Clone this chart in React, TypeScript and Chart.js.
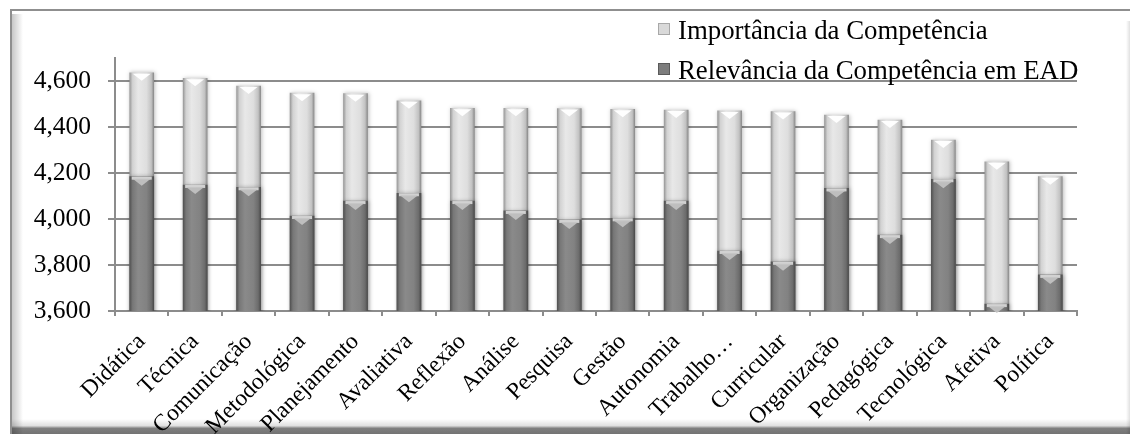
import React, { useEffect, useRef } from "react";
import { Chart, registerables } from "chart.js";

Chart.register(...registerables);

// Competências avaliadas (eixo X)
const competencias = [
  "Didática",
  "Técnica",
  "Comunicação",
  "Metodológica",
  "Planejamento",
  "Avaliativa",
  "Reflexão",
  "Análise",
  "Pesquisa",
  "Gestão",
  "Autonomia",
  "Trabalho…",
  "Curricular",
  "Organização",
  "Pedagógica",
  "Tecnológica",
  "Afetiva",
  "Política",
];

// Importância da Competência
const importancia = [
  4636, 4612, 4578, 4547, 4545, 4514, 4481, 4481, 4480, 4477, 4474, 4470,
  4467, 4452, 4430, 4343, 4249, 4184,
];

// Relevância da Competência em EAD
const relevancia = [
  4184, 4148, 4138, 4013, 4078, 4112, 4078, 4035, 3996, 4003, 4078, 3861,
  3814, 4133, 3930, 4173, 3630, 3757,
];

const Y_MIN = 3600;
const Y_MAX = 4700;
const Y_STEP = 200;

const SERIF = '"Liberation Serif", "Times New Roman", Times, serif';
const BAR_W = 24;

const LIGHT_STOPS: [number, string][] = [
  [0, "#9a9a9a"],
  [0.12, "#d2d2d2"],
  [0.35, "#e8e8e8"],
  [0.7, "#dedede"],
  [0.9, "#c2c2c2"],
  [1, "#8c8c8c"],
];
const DARK_STOPS: [number, string][] = [
  [0, "#525252"],
  [0.12, "#777777"],
  [0.35, "#8a8a8a"],
  [0.7, "#828282"],
  [0.9, "#6c6c6c"],
  [1, "#4c4c4c"],
];

// Horizontal gradient across each bar to give it a rounded, cylinder-like look
const cylinder = (stops: [number, string][]) => (ctx: any) => {
  const chart = ctx.chart;
  const xs = chart.scales && chart.scales.x;
  if (!xs || ctx.dataIndex === undefined) return stops[2][1];
  const cx = xs.getPixelForValue(ctx.dataIndex);
  if (!Number.isFinite(cx)) return stops[2][1];
  const g = chart.ctx.createLinearGradient(cx - BAR_W / 2, 0, cx + BAR_W / 2, 0);
  stops.forEach(([o, c]) => g.addColorStop(o, c));
  return g;
};

// Soft shadow behind the bars and bevelled caps on their tops
const barDecor = {
  id: "barDecor",
  beforeDatasetDraw(chart: any) {
    const c = chart.ctx;
    c.save();
    c.shadowColor = "rgba(0,0,0,0.25)";
    c.shadowBlur = 4;
    c.shadowOffsetX = 1;
  },
  afterDatasetDraw(chart: any, args: any) {
    const c = chart.ctx;
    c.restore();
    const light = args.index === 0;
    c.save();
    args.meta.data.forEach((el: any) => {
      const { x, y, width, base } = el.getProps(["x", "y", "width", "base"], true);
      const h = base - y;
      if (!Number.isFinite(h) || h < 2) return;
      const half = width / 2;
      if (light) {
        c.fillStyle = "rgba(255,255,255,0.95)";
        c.beginPath();
        c.moveTo(x - half + 3, y + 1);
        c.lineTo(x + half - 3, y + 1);
        c.lineTo(x, y + Math.min(8, h));
        c.closePath();
        c.fill();
      } else {
        c.fillStyle = "rgba(214,214,214,0.95)";
        c.fillRect(x - half + 2, y, width - 4, Math.min(3, h));
        if (h > 5) {
          c.fillStyle = "rgba(196,196,196,0.9)";
          c.beginPath();
          c.moveTo(x - half + 3, y + 2);
          c.lineTo(x + half - 3, y + 2);
          c.lineTo(x, y + Math.min(9, h));
          c.closePath();
          c.fill();
        }
      }
    });
    c.restore();
  },
};

const legendItems = [
  { label: "Importância da Competência", fill: "#d9d9d9", edge: "#a8a8a8" },
  { label: "Relevância da Competência em EAD", fill: "#7d7d7d", edge: "#5a5a5a" },
];

export default function App() {
  const canvasRef = useRef<HTMLCanvasElement>(null);

  useEffect(() => {
    if (!canvasRef.current) return;
    const chart = new Chart(canvasRef.current, {
      type: "bar",
      data: {
        labels: competencias,
        datasets: [
          {
            label: legendItems[0].label,
            data: importancia,
            backgroundColor: cylinder(LIGHT_STOPS),
            borderWidth: 0,
            grouped: false,
            order: 1,
            barThickness: BAR_W,
          },
          {
            label: legendItems[1].label,
            data: relevancia,
            backgroundColor: cylinder(DARK_STOPS),
            borderWidth: 0,
            grouped: false,
            order: 0,
            barThickness: BAR_W,
          },
        ],
      } as any,
      options: {
        responsive: false,
        animation: false,
        devicePixelRatio: 1,
        layout: { padding: { top: 58, right: 56, left: 0, bottom: 0 } },
        plugins: {
          legend: { display: false },
          tooltip: { enabled: false },
        },
        scales: {
          x: {
            grid: {
              display: true,
              drawOnChartArea: false,
              drawTicks: true,
              tickLength: 5,
              color: "#8c8c8c",
              lineWidth: 2,
              offset: true,
            },
            border: { display: true, color: "#8c8c8c", width: 2 },
            ticks: {
              autoSkip: false,
              minRotation: 45,
              maxRotation: 45,
              padding: 12,
              color: "#000",
              font: { family: SERIF, size: 23.5 },
            },
            afterFit(scale: any) {
              scale.height = 123;
            },
          },
          y: {
            min: Y_MIN,
            max: Y_MAX,
            grid: { color: "#8c8c8c", lineWidth: 2, tickLength: 7 },
            border: { display: true, color: "#8c8c8c", width: 2 },
            ticks: {
              stepSize: Y_STEP,
              includeBounds: false,
              padding: 17,
              color: "#000",
              font: { family: SERIF, size: 25.5 },
              callback: (v: any) => Number(v).toLocaleString("en-US"),
            },
            afterFit(scale: any) {
              scale.width = 115;
            },
          },
        },
      } as any,
      plugins: [barDecor],
    });
    return () => chart.destroy();
  }, []);

  return (
    <div
      style={{
        position: "fixed",
        left: 0,
        top: 0,
        width: 1133,
        height: 434,
        background: "#fff",
        overflow: "hidden",
      }}
    >
      {/* chart frame */}
      <div
        style={{
          position: "absolute",
          left: 10,
          top: 9,
          width: 1120,
          height: 425,
          boxSizing: "border-box",
          borderTop: "2px solid #8f8f8f",
          borderLeft: "2px solid #8f8f8f",
          background: "#fff",
          overflow: "hidden",
        }}
      >
        <div
          style={{
            position: "absolute",
            left: 0,
            top: 3,
            width: 11,
            bottom: 0,
            background: "linear-gradient(to right, rgba(0,0,0,0.22), rgba(0,0,0,0))",
          }}
        />
        <div
          style={{
            position: "absolute",
            right: 0,
            top: 10,
            width: 4,
            bottom: 0,
            background: "linear-gradient(to left, rgba(0,0,0,0.12), rgba(0,0,0,0))",
          }}
        />
        <div
          style={{
            position: "absolute",
            left: 0,
            right: 0,
            bottom: 0,
            height: 15,
            background:
              "linear-gradient(to bottom, rgba(0,0,0,0) 0%, rgba(0,0,0,0.12) 45%, rgba(0,0,0,0.5) 62%, rgba(0,0,0,0.55) 100%)",
          }}
        />
      </div>
      <canvas
        ref={canvasRef}
        width={1133}
        height={434}
        style={{ position: "absolute", left: 0, top: 0 }}
      />
      {legendItems.map((item, i) => (
        <div key={item.label}>
          <div
            style={{
              position: "absolute",
              left: 658,
              top: 23 + i * 40,
              width: 12,
              height: 12,
              boxSizing: "border-box",
              background: item.fill,
              border: `1px solid ${item.edge}`,
            }}
          />
          <div
            style={{
              position: "absolute",
              left: 678,
              top: 15 + i * 40,
              fontFamily: SERIF,
              fontSize: 26.8,
              color: "#000",
              whiteSpace: "nowrap",
            }}
          >
            {item.label}
          </div>
        </div>
      ))}
    </div>
  );
}
